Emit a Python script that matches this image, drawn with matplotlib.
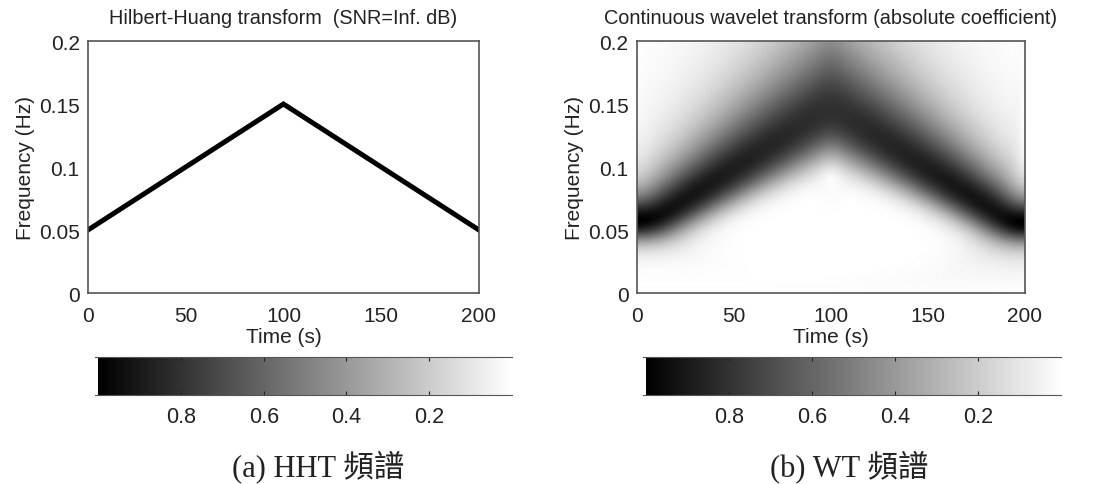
import numpy as np
import matplotlib
matplotlib.use("Agg")
import matplotlib.pyplot as plt

# instantaneous frequency knots of the test signal
knot_time = [0, 100, 200]          # s
knot_freq = [0.05, 0.15, 0.05]     # Hz

x_ticks = [0, 50, 100, 150, 200]
y_ticks = [0, 0.05, 0.1, 0.15, 0.2]
y_ticklabels = ["0", "0.05", "0.1", "0.15", "0.2"]
cb_ticks = [0.8, 0.6, 0.4, 0.2]

titles = ["Hilbert-Huang transform  (SNR=Inf. dB)",
          "Continuous wavelet transform (absolute coefficient)"]
captions = ["(a) HHT 頻譜", "(b) WT 頻譜"]

plt.rcParams["font.family"] = ["Liberation Sans", "DejaVu Sans"]


def morlet_cwt(sig, fs, freqs, n_cycles=4.0, norm_pow=0.25):
    """|CWT| with a Morlet wavelet and symmetric extension at the edges."""
    n = len(sig)
    ext = np.concatenate([sig[::-1], sig, sig[::-1]])
    spec = np.fft.fft(ext)
    nu = np.fft.fftfreq(len(ext), d=1.0 / fs)
    out = np.empty((len(freqs), n))
    for i, f in enumerate(freqs):
        sf = f / n_cycles
        psi = np.exp(-0.5 * ((nu - f) / sf) ** 2) * (nu > 0)
        out[i] = np.abs(np.fft.ifft(spec * psi))[n:2 * n] / f ** norm_pow
    return out


# build the chirp and its wavelet transform
fs = 4.0
t = np.arange(0, 200 + 1 / fs, 1 / fs)
inst_f = np.interp(t, knot_time, knot_freq)
phase = 2 * np.pi * np.cumsum(inst_f) / fs
sig = np.cos(phase)
freqs = np.linspace(0.001, 0.2, 240)
cwt = morlet_cwt(sig, fs, freqs)
cwt = cwt / cwt.max()

fig = plt.figure(figsize=(11.12, 4.85), dpi=100)
ax_pos = [[0.0791, 0.3938, 0.3516, 0.5196], [0.5728, 0.3938, 0.3489, 0.5196]]
cb_pos = [[0.0854, 0.1835, 0.375, 0.0784], [0.5782, 0.1835, 0.3759, 0.0784]]
cap_x = [0.286, 0.764]
ink = "#222222"

for k in range(2):
    ax = fig.add_axes(ax_pos[k])
    if k == 0:
        ax.plot(knot_time, knot_freq, color="black", lw=3.6, solid_joinstyle="miter")
    else:
        ax.imshow(cwt, origin="lower", extent=[0, 200, 0, 0.2], aspect="auto",
                  cmap="gray_r", vmin=0, vmax=1, interpolation="bilinear")
    ax.set_xlim(0, 200)
    ax.set_ylim(0, 0.2)
    ax.set_xticks(x_ticks)
    ax.set_yticks(y_ticks)
    ax.set_yticklabels(y_ticklabels)
    ax.tick_params(direction="in", length=0, labelsize=15, colors=ink)
    ax.tick_params(axis="x", pad=9)
    ax.tick_params(axis="y", pad=6)
    ax.set_xlabel("Time (s)", fontsize=15, labelpad=2, color=ink)
    ax.set_ylabel("Frequency (Hz)", fontsize=15, labelpad=3, color=ink)
    ax.set_title(titles[k], fontsize=14.3, pad=13, color=ink)
    for s in ax.spines.values():
        s.set_color("#555555")
        s.set_linewidth(1.2)

    # horizontal colorbar, dark = 1 on the left
    cax = fig.add_axes(cb_pos[k])
    grad = np.linspace(0, 1, 256)[None, :]
    cax.imshow(grad, extent=[0, 1, 0, 1], aspect="auto", cmap="gray_r",
               vmin=0, vmax=1)
    cax.set_xlim(1.0 + 0.008, 0.0)
    cax.set_ylim(0, 1)
    cax.set_xticks(cb_ticks)
    cax.set_xticklabels([f"{v:.1f}" for v in cb_ticks])
    cax.set_yticks([])
    cax.tick_params(axis="x", direction="in", length=3, top=True, labelsize=15.5,
                    pad=8, colors=ink)
    for side in ["left", "right"]:
        cax.spines[side].set_visible(False)
    for side in ["top", "bottom"]:
        cax.spines[side].set_color("#555555")

    fig.text(cap_x[k], 0.037, captions[k], ha="center", va="center", fontsize=22,
             family=["Liberation Serif", "Noto Sans CJK TC"], color=ink)

fig.savefig("out.png", dpi=100)
